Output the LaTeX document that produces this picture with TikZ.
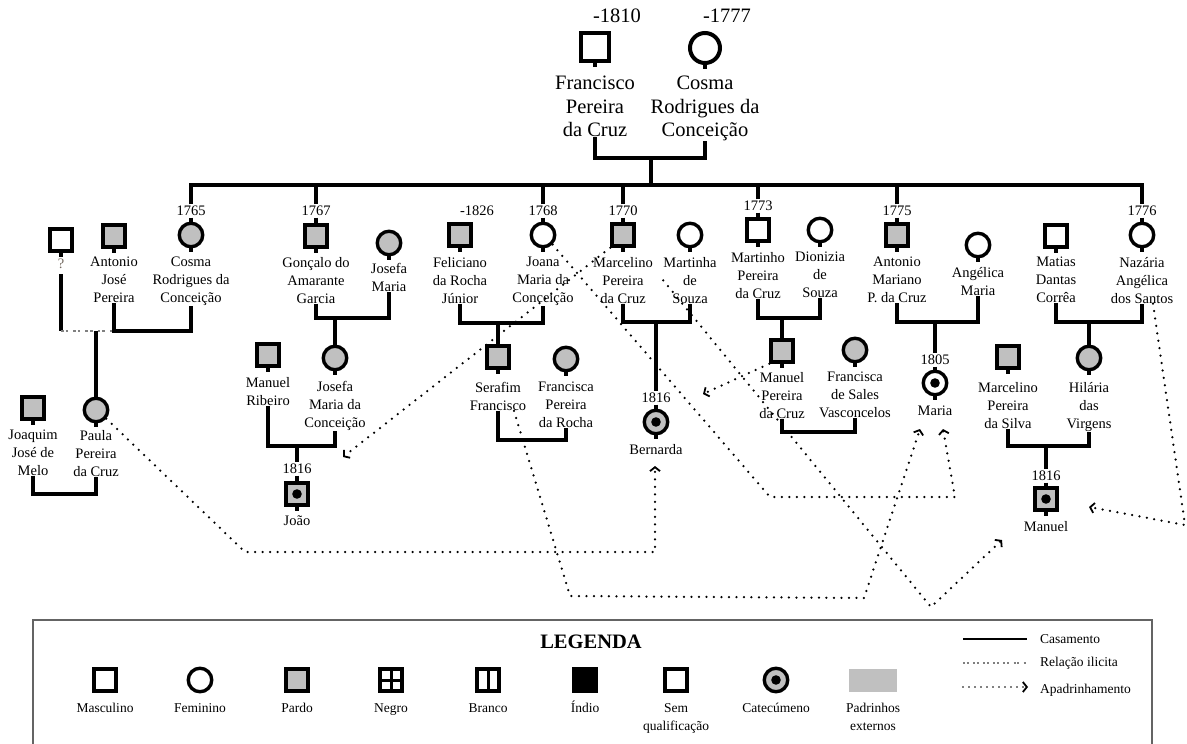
\documentclass[tikz,border=0pt]{standalone}
\usepackage{fontspec}
\setmainfont{Liberation Serif}
\usetikzlibrary{arrows.meta,positioning}
\definecolor{pardocol}{RGB}{192,192,192}
\definecolor{qcol}{RGB}{115,105,95}
\definecolor{framecol}{RGB}{100,100,100}

\begin{document}
\begin{tikzpicture}[
    x=1pt, y=-1pt,
    sq/.style={rectangle, draw, line width=3.4pt, minimum size=22pt, inner sep=0pt},
    fem/.style={circle, draw, line width=3.4pt, minimum size=23.5pt, inner sep=0pt},
    bigsq/.style={sq, line width=4pt, minimum size=28pt},
    bigfem/.style={fem, line width=4pt, minimum size=30pt},
    pardo/.style={fill=pardocol},
    cat/.style={path picture={\fill[black] (path picture bounding box.center) circle (4.8pt);}},
    negro/.style={path picture={\draw[line width=3pt] (path picture bounding box.north) -- (path picture bounding box.south) (path picture bounding box.west) -- (path picture bounding box.east);}},
    branco/.style={path picture={\draw[line width=3pt] (path picture bounding box.north) -- (path picture bounding box.south);}},
    nm/.style={align=center, inner sep=0pt, anchor=north, font=\fontsize{14.5}{18}\selectfont},
    bignm/.style={nm, font=\fontsize{20.5}{23.5}\selectfont},
    yr/.style={inner sep=1.5pt, font=\fontsize{14.5}{17}\selectfont},
    bigyr/.style={yr, font=\fontsize{20.5}{23}\selectfont},
    mar/.style={line width=3.6pt},
    stubline/.style={line width=3.2pt},
    ilicit/.style={draw=gray, line width=2.6pt, dash pattern=on 2.6pt off 2pt on 2.6pt off 5pt},
    pad/.style={line width=2.5pt, line cap=round, dash pattern=on 0pt off 7.5pt, -{Straight Barb[length=4pt,width=10pt,line width=1.8pt]}},
    legtxt/.style={align=center, inner sep=0pt, font=\fontsize{13.5}{18}\selectfont}
]
\useasboundingbox (0,0) rectangle (1187,744);

% Parents
\node[bigsq] (fran) at (595,47) {};
\node[bigfem] (cosma0) at (705,48) {};
\node[bigyr] (yfran) at (617,16) {-1810};
\node[bigyr] (ycosma0) at (727,16) {-1777};
\node[bignm] (franlbl) at (595,76) {Francisco\\Pereira\\da Cruz};
\node[bignm] (cosmalbl0) at (705,76) {Cosma\\Rodrigues da\\Conceição};

% Children and spouses
\node[sq] (q) at (61,240) {};
\node[nm, text=qcol] (qlbl) at (61,259) {?};
\node[sq, pardo] (ant) at (114,236) {};
\node[nm] (antlbl) at (114,257) {Antonio\\José\\Pereira};
\node[yr] (y1765) at (191,211) {1765};
\node[fem, pardo] (cosma1) at (191,235) {};
\node[nm] (cosmalbl1) at (191,257) {Cosma\\Rodrigues da\\Conceição};
\node[yr] (y1767) at (316,211) {1767};
\node[sq, pardo] (gon) at (316,236) {};
\node[nm] (gonlbl) at (316,257) {Gonçalo do\\Amarante\\Garcia};
\node[fem, pardo] (josm) at (389,243) {};
\node[nm] (josmlbl) at (389,263) {Josefa\\Maria};
\node[yr] (yfeli) at (477,211) {-1826};
\node[sq, pardo] (feli) at (460,235) {};
\node[nm] (felilbl) at (460,257) {Feliciano\\da Rocha\\Júnior};
\node[yr] (y1768) at (543,211) {1768};
\node[fem] (joana) at (543,235) {};
\node[nm] (joanalbl) at (543,257) {Joana\\Maria da\\Conceição};
\node[yr] (y1770) at (623,211) {1770};
\node[sq, pardo] (marc) at (623,235) {};
\node[nm] (marclbl) at (623,257) {Marcelino\\Pereira\\da Cruz};
\node[fem] (mart) at (690,235) {};
\node[nm] (martlbl) at (690,257) {Martinha\\de\\Souza};
\node[yr] (y1773) at (758,206) {1773};
\node[sq] (martinho) at (758,230) {};
\node[nm] (martinholbl) at (758,252) {Martinho\\Pereira\\da Cruz};
\node[fem] (dion) at (820,230) {};
\node[nm] (dionlbl) at (820,252) {Dionizia\\de\\Souza};
\node[yr] (y1775) at (897,211) {1775};
\node[sq, pardo] (antm) at (897,235) {};
\node[nm] (antmlbl) at (897,257) {Antonio\\Mariano\\P. da Cruz};
\node[fem] (ang) at (978,245) {};
\node[nm] (anglbl) at (978,267) {Angélica\\Maria};
\node[sq] (mat) at (1056,236) {};
\node[nm] (matlbl) at (1056,257) {Matias\\Dantas\\Corrêa};
\node[yr] (y1776) at (1142,211) {1776};
\node[fem] (naz) at (1142,235) {};
\node[nm] (nazlbl) at (1142,257) {Nazária\\Angélica\\dos Santos};

% Grandchildren and spouses
\node[sq, pardo] (joaq) at (33,408) {};
\node[nm] (joaqlbl) at (33,430) {Joaquim\\José de\\Melo};
\node[fem, pardo] (paula) at (96,410) {};
\node[nm] (paulalbl) at (96,430) {Paula\\Pereira\\da Cruz};
\node[sq, pardo] (manr) at (268,355) {};
\node[nm] (manrlbl) at (268,377) {Manuel\\Ribeiro};
\node[fem, pardo] (josc) at (335,358) {};
\node[nm] (josclbl) at (335,381) {Josefa\\Maria da\\Conceição};
\node[yr] (yjoao) at (297,469) {1816};
\node[sq, pardo, cat] (joao) at (297,494) {};
\node[nm] (joaolbl) at (297,516) {João};
\node[sq, pardo] (sera) at (498,357) {};
\node[nm] (seralbl) at (498,382) {Serafim\\Francisco};
\node[fem, pardo] (franc) at (566,359) {};
\node[nm] (franclbl) at (566,382) {Francisca\\Pereira\\da Rocha};
\node[yr] (ybern) at (656,398) {1816};
\node[fem, pardo, cat] (bern) at (656,422) {};
\node[nm] (bernlbl) at (656,444) {Bernarda};
\node[sq, pardo] (manp) at (782,351) {};
\node[nm] (manplbl) at (782,372) {Manuel\\Pereira\\da Cruz};
\node[fem, pardo] (fsv) at (855,350) {};
\node[nm] (fsvlbl) at (855,372) {Francisca\\de Sales\\Vasconcelos};
\node[yr] (y1805) at (935,360) {1805};
\node[fem, cat] (maria) at (935,383) {};
\node[nm] (marialbl) at (935,406) {Maria};
\node[sq, pardo] (marcs) at (1008,357) {};
\node[nm] (marcslbl) at (1008,382) {Marcelino\\Pereira\\da Silva};
\node[fem, pardo] (hil) at (1089,358) {};
\node[nm] (hillbl) at (1089,382) {Hilária\\das\\Virgens};
\node[yr] (ymanu) at (1046,476) {1816};
\node[sq, pardo, cat] (manu) at (1046,499) {};
\node[nm] (manulbl) at (1046,521) {Manuel};

% stubs under the symbols
\foreach \p in {fran,cosma0,q,ant,cosma1,gon,josm,feli,joana,marc,mart,martinho,dion,antm,ang,mat,naz,
                joaq,paula,manr,josc,sera,franc,bern,manp,fsv,maria,marcs,hil,joao,manu}
    \draw[stubline] (\p.south) -- ++(0,4);

% Parents' marriage and sibling bar
\coordinate (pm) at (651,158);
\coordinate (sib) at (651,185);
\draw[mar] (franlbl.south) |- (pm) -| (cosmalbl0.south);
\draw[mar] (pm) -- (sib);
\draw[mar] (y1765.north) -- (y1765.north |- sib) -- (y1776.north |- sib) -- (y1776.north);
\foreach \yy in {y1767,y1768,y1770,y1773,y1775}
    \draw[mar] (\yy.north) -- (\yy.north |- sib);
\foreach \yy/\p in {y1765/cosma1,y1767/gon,y1768/joana,y1770/marc,y1773/martinho,y1775/antm,y1776/naz,
                    ybern/bern,y1805/maria,yjoao/joao,ymanu/manu}
    \draw[stubline] (\yy.south) -- (\p.north);

% Marriages
\coordinate (m1) at (152,331);
\coordinate (ilic) at (96,331);
\draw[mar] (antlbl.south) |- (m1) -| (cosmalbl1.south);
\draw[mar, shorten <=5pt] (qlbl.south) -- (qlbl.south |- m1);
\draw[ilicit] (qlbl.south |- m1) -- (antlbl.south |- m1);
\draw[mar] (ilic) -- (paula.north);

\coordinate (m2) at (335,318);
\draw[mar] (gonlbl.south) |- (m2) -| (josmlbl.south);
\draw[mar] (m2) -- (josc.north);
\coordinate (m3) at (498,323);
\draw[mar] (felilbl.south) |- (m3) -| (joanalbl.south);
\draw[mar] (m3) -- (sera.north);
\coordinate (m4) at (656,322);
\draw[mar] (marclbl.south) |- (m4) -| (martlbl.south);
\draw[mar] (m4) -- (ybern.north);
\coordinate (m5) at (782,318);
\draw[mar] (martinholbl.south) |- (m5) -| (dionlbl.south);
\draw[mar] (m5) -- (manp.north);
\coordinate (m6) at (935,322);
\draw[mar] (antmlbl.south) |- (m6) -| (anglbl.south);
\draw[mar] (m6) -- (y1805.north);
\coordinate (m7) at (1089,322);
\draw[mar] (matlbl.south) |- (m7) -| (nazlbl.south);
\draw[mar] (m7) -- (hil.north);

\coordinate (m8) at (64,494);
\draw[mar] (joaqlbl.south) |- (m8) -| (paulalbl.south);
\coordinate (m9) at (297,446);
\draw[mar] (manrlbl.south) |- (m9) -| (josclbl.south);
\draw[mar] (m9) -- (yjoao.north);
\coordinate (m10) at (532,440);
\draw[mar] (seralbl.south) |- (m10) -| (franclbl.south);
\coordinate (m11) at (818,432);
\draw[mar] (manplbl.south) |- (m11) -| (fsvlbl.south);
\coordinate (m12) at (1046,446);
\draw[mar] (marcslbl.south) |- (m12) -| (hillbl.south);
\draw[mar] (m12) -- (ymanu.north);

% Godparents
\coordinate (g1a) at (245,552);
\coordinate (g1b) at (655,552);
\coordinate (g1c) at (655,466);
\draw[pad] (paula.-40) -- (g1a) -- (g1b) -- (g1c);
\coordinate (g2) at (343,457);
\draw[pad] (marc.south west) -- (g2);
\coordinate (g3) at (703,394);
\draw[pad] (manp.south west) -- (g3);
\coordinate (g4a) at (570,596);
\coordinate (g4b) at (864,598);
\coordinate (g4c) at (920,429);
\draw[pad] ([xshift=16pt]seralbl.south) -- (g4a) -- (g4b) -- (g4c);
\coordinate (g5a) at (770,497);
\coordinate (g5b) at (955,497);
\coordinate (g5c) at (943,429);
\draw[pad] (joana.south east) -- (g5a) -- (g5b) -- (g5c);
\coordinate (g6a) at (931,607);
\coordinate (g6b) at (1002,540);
\draw[pad] (martlbl.west) -- (g6a) -- (g6b);
\coordinate (g7a) at (1185,525);
\coordinate (g7b) at (1089,507);
\draw[pad] ([xshift=11pt]nazlbl.south) -- (g7a) -- (g7b);

% Legend
\draw[framecol, line width=1.5pt] (33,746) -- (33,620) -- (1152,620) -- (1152,746);
\node[font=\fontsize{20.5}{22}\selectfont\bfseries] (legtitle) at (591,642) {LEGENDA};

\node[sq] (lm) at (105,680) {};
\node[fem] (lf) at (200,680) {};
\node[sq, pardo] (lp) at (297,680) {};
\node[sq, negro] (ln) at (391,680) {};
\node[sq, branco] (lb) at (488,680) {};
\node[sq, fill=black] (li) at (585,680) {};
\node[sq] (ls) at (676,680) {};
\node[fem, pardo, cat] (lc) at (776,680) {};
\node[fill=pardocol, minimum width=48pt, minimum height=23pt, inner sep=0pt] (lx) at (873,680) {};

\coordinate (lrow) at (0,703);
\foreach \s/\t in {lm/Masculino, lf/Feminino, lp/Pardo, ln/Negro, lb/Branco, li/Índio, lc/Catecúmeno}
    \node[legtxt, text height=9.5pt, anchor=north] (\s-t) at (\s |- lrow) {\t};
\node[legtxt, anchor=north] (ls-t) at (ls |- lrow) {Sem\\qualificação};
\node[legtxt, anchor=north] (lx-t) at (lx |- lrow) {Padrinhos\\externos};

\coordinate (lk1) at (963,639);
\coordinate (lk2) at (963,663);
\coordinate (lk3) at (963,687);
\node[legtxt, anchor=west] (lcas) at (1040,639) {Casamento};
\node[legtxt, anchor=west] (lrel) at (1040,663) {Relação ilicita};
\node[legtxt, anchor=west] (lapa) at (1040,690) {Apadrinhamento};
\draw[mar, line width=2.8pt, shorten >=13pt] (lk1) -- (lcas.west);
\draw[ilicit, line width=2pt, dash pattern=on 2pt off 1.6pt on 2pt off 4.5pt, shorten >=13pt] (lk2) -- (lrel.west);
\draw[pad, line width=1.8pt, dash pattern=on 0pt off 6pt, shorten >=12pt] (lk3) -- (lapa.west |- lk3);
\end{tikzpicture}
\end{document}
